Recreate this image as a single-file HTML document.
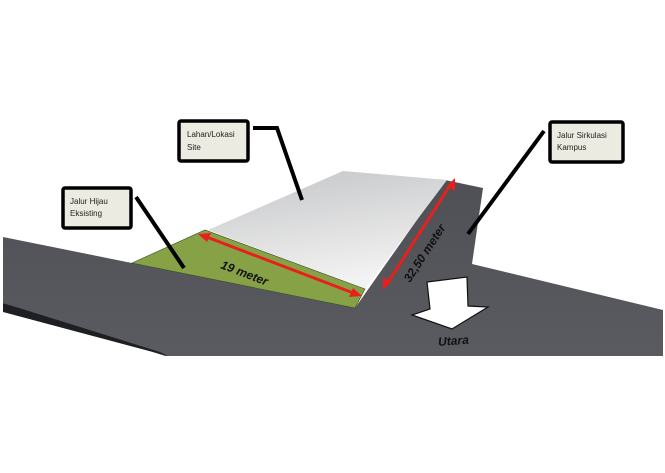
<!DOCTYPE html>
<html><head><style>
html,body{margin:0;padding:0;background:#fff;}
svg{display:block;}
text{font-family:"Liberation Sans",sans-serif;}
</style></head><body>
<svg width="665" height="473" viewBox="0 0 665 473" xmlns="http://www.w3.org/2000/svg">
<defs>
<linearGradient id="site" x1="0" y1="0" x2="0.3" y2="1">
<stop offset="0" stop-color="#c4c5c7"/><stop offset="1" stop-color="#f2f2f2"/>
</linearGradient>
<linearGradient id="road" x1="0" y1="0" x2="0" y2="1">
<stop offset="0" stop-color="#4f5055"/><stop offset="1" stop-color="#5a5b60"/>
</linearGradient>
</defs>
<!-- road -->
<polygon points="3,237 132,263 355,308 445,180 483,188 472,264 663,310 663,356 165,356 3,303" fill="url(#road)"/>
<!-- shadow strip -->
<polygon points="3,303 160,352 168,356 3,312" fill="#1e1f22"/>
<!-- site -->
<polygon points="208,230 343,171 447,180 365,289" fill="url(#site)"/>
<!-- grass -->
<polygon points="132,263 205,230 365,289 355,308" fill="#87a246" stroke="#3a4a20" stroke-width="0.6"/>
<!-- leader lines -->
<g stroke="#000" stroke-width="4" fill="none">
<polyline points="253,128 277,128 302,200"/>
<line x1="136" y1="197" x2="184" y2="268"/>
<line x1="544" y1="131" x2="468" y2="234"/>
</g>
<!-- label boxes -->
<g stroke="#000" stroke-width="3.5" fill="#ecebe1">
<rect x="179" y="121" width="69" height="40" rx="2"/>
<rect x="63" y="188" width="68" height="40" rx="2"/>
<rect x="550" y="122" width="73" height="40" rx="2"/>
</g>
<g font-size="8" fill="#222">
<text x="187" y="137">Lahan/Lokasi</text><text x="187" y="150">Site</text>
<text x="70" y="204">Jalur Hijau</text><text x="70" y="216">Eksisting</text>
<text x="557" y="138">Jalur Sirkulasi</text><text x="557" y="150">Kampus</text>
</g>
<!-- red dimension arrows -->
<g stroke="#e8201c" stroke-width="3" fill="#e8201c">
<line x1="204" y1="236" x2="356" y2="294"/>
<line x1="387" y1="284" x2="451" y2="184"/>
</g>
<g fill="#e8201c">
<polygon points="198,234 211,233 207,242"/>
<polygon points="362,296 349,297 353,288"/>
<polygon points="383,290 383,277 391,282"/>
<polygon points="455,178 455,191 447,186"/>
</g>
<text x="0" y="0" font-size="12" font-weight="bold" font-style="italic" fill="#111" transform="translate(220,268) rotate(21)">19 meter</text>
<text x="0" y="0" font-size="12" font-weight="bold" font-style="italic" fill="#111" transform="translate(410,283) rotate(-57)">32,50 meter</text>
<!-- north arrow -->
<polygon points="427,282 467,277 468,306 488,307 452,329 412,315 430,309" fill="#fff" stroke="#111" stroke-width="1.2"/>
<text x="438" y="345" font-size="12" font-style="italic" font-weight="bold" fill="#111" transform="rotate(-4 450 340)">Utara</text>
</svg>
</body></html>
